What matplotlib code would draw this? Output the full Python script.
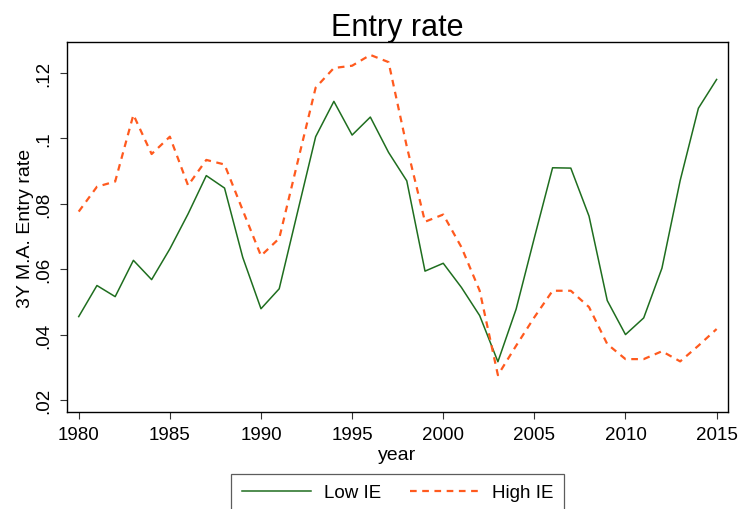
import matplotlib
matplotlib.use("Agg")
import matplotlib.pyplot as plt

plt.rcParams['font.family'] = ['Liberation Sans', 'DejaVu Sans']

years = list(range(1980, 2016))

low_ie = [0.0455, 0.0550, 0.0516, 0.0627, 0.0568, 0.0662, 0.0769, 0.0886, 0.0848, 0.0636,
          0.0479, 0.0540, 0.0773, 0.1005, 0.1113, 0.1010, 0.1065, 0.0957, 0.0870, 0.0594,
          0.0618, 0.0544, 0.0458, 0.0317, 0.0478, 0.0696, 0.0910, 0.0909, 0.0762, 0.0504,
          0.0400, 0.0451, 0.0603, 0.0871, 0.1092, 0.1180]

high_ie = [0.0776, 0.0852, 0.0868, 0.1072, 0.0952, 0.1005, 0.0856, 0.0934, 0.0920, 0.0780,
           0.0641, 0.0694, 0.0925, 0.1155, 0.1215, 0.1222, 0.1255, 0.1233, 0.0975, 0.0745,
           0.0767, 0.0667, 0.0534, 0.0276, 0.0366, 0.0453, 0.0534, 0.0534, 0.0484, 0.0371,
           0.0325, 0.0325, 0.0349, 0.0318, 0.0366, 0.0417]

yticks = [0.02, 0.04, 0.06, 0.08, 0.10, 0.12]
ytick_labels = [".02", ".04", ".06", ".08", ".1", ".12"]
xticks = [1980, 1985, 1990, 1995, 2000, 2005, 2010, 2015]

fig = plt.figure(figsize=(7.39, 5.10), dpi=100)
ax = fig.add_axes([0.090, 0.190, 0.895, 0.726])

ax.plot(years, low_ie, color='#1f6e1f', lw=1.1, label='Low IE')
ax.plot(years, high_ie, color='#ff5a1e', lw=1.6, linestyle=(0, (3, 2.5)), label='High IE')

ax.set_xlim(1979.33, 2015.62)
ax.set_ylim(0.0163, 0.1295)
ax.set_xticks(xticks)
ax.set_yticks(yticks)
ax.set_yticklabels(ytick_labels, rotation=90, va='center')
ax.tick_params(axis='both', direction='out', length=5, width=0.8, color='#333333',
               labelsize=13.5, pad=5)

for s in ax.spines.values():
    s.set_linewidth(1.0)

ax.set_xlabel('year', fontsize=14, labelpad=2)
ax.set_ylabel('3Y M.A. Entry rate', fontsize=14, labelpad=1)
ax.set_title('Entry rate', fontsize=22, pad=5)

leg = fig.legend(loc='upper center', bbox_to_anchor=(0.538, 0.069), ncol=2,
                 fontsize=13.5, frameon=True, fancybox=False, edgecolor='#333333',
                 handlelength=3.7, handletextpad=0.7, columnspacing=1.5,
                 borderpad=0.55, borderaxespad=0)
leg.get_frame().set_linewidth(0.9)

fig.savefig('out.png', dpi=100)
